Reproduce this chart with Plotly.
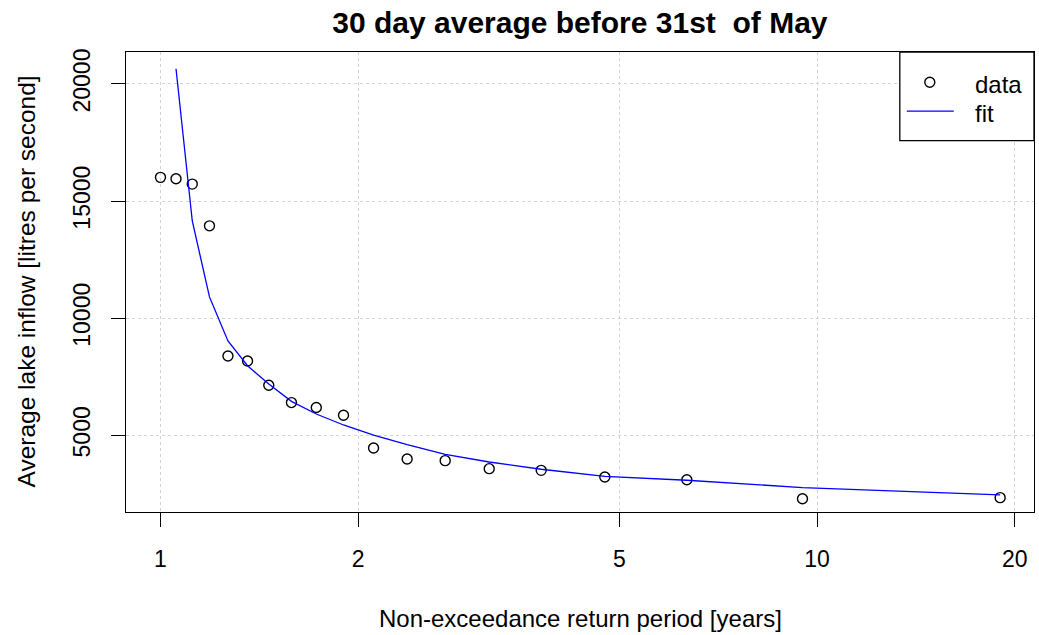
import plotly.graph_objects as go

# Return periods (years) of the observations
period_data = [1.0, 1.056, 1.118, 1.1875, 1.267, 1.357, 1.462, 1.583, 1.727, 1.9,
               2.111, 2.375, 2.714, 3.167, 3.8, 4.75, 6.333, 9.5, 19.0]
inflow_data = [16013, 15953, 15726, 13944, 8389, 8175, 7137, 6397, 6184, 5855,
               4459, 3988, 3918, 3575, 3504, 3219, 3105, 2293, 2338]

# Fitted curve
period_fit = [1.056, 1.118, 1.1875, 1.267, 1.357, 1.462, 1.583, 1.727, 1.9,
              2.111, 2.375, 2.714, 3.167, 3.8, 4.75, 6.333, 9.5, 19.0]
inflow_fit = [20650, 14150, 10910, 9030, 7970, 7190, 6450, 5910, 5440,
              5010, 4600, 4190, 3860, 3550, 3250, 3080, 2770, 2460]

x_ticks = [1, 2, 5, 10, 20]
y_ticks = [5000, 10000, 15000, 20000]
legend_labels = ["data", "fit"]

FONT = "Liberation Sans, Arial, sans-serif"
W, H = 1039, 635
L, R, T, B = 125.5, 1034.3, 52.3, 512.3
PW, PH = R - L, B - T


def px_x(p):
    return (p - L) / PW


def px_y(p):
    return (B - p) / PH


fig = go.Figure()
fig.add_trace(go.Scatter(
    x=period_data, y=inflow_data, mode="markers", name=legend_labels[0],
    marker=dict(symbol="circle-open", size=10, color="black", line=dict(width=1.4, color="black")),
))
fig.add_trace(go.Scatter(
    x=period_fit, y=inflow_fit, mode="lines", name=legend_labels[1],
    line=dict(color="#0000FF", width=1.3),
))

fig.update_layout(
    width=W, height=H,
    margin=dict(l=L, r=W - R, t=T, b=H - B, pad=0),
    paper_bgcolor="white", plot_bgcolor="white",
    font=dict(family=FONT, size=23, color="black"),
    showlegend=False,
    title=dict(text="<b>30 day average before 31st  of May</b>", x=(L + R) / 2 / W, xanchor="center",
               y=1 - 22 / H, yanchor="middle", yref="container",
               font=dict(size=30, family=FONT)),
)

fig.update_xaxes(
    type="log", range=[-0.0525, 1.3303],
    tickvals=x_ticks, ticktext=[str(v) for v in x_ticks],
    ticks="outside", ticklen=14, tickwidth=1, tickcolor="black",
    showline=True, linecolor="black", linewidth=1.3, mirror=True,
    showgrid=True, gridcolor="#d3d3d3", griddash="dot", gridwidth=1,
    zeroline=False, ticklabelstandoff=12,
    tickfont=dict(size=23),
)
fig.update_yaxes(
    range=[1725, 21366],
    tickvals=y_ticks, ticktext=[str(v) for v in y_ticks],
    ticks="outside", ticklen=14, tickwidth=1, tickcolor="black",
    showline=True, linecolor="black", linewidth=1.3, mirror=True,
    showgrid=True, gridcolor="#d3d3d3", griddash="dot", gridwidth=1,
    zeroline=False, tickangle=-90, ticklabelstandoff=12,
    tickfont=dict(size=23),
)

fig.add_annotation(text="Non-exceedance return period [years]", xref="paper", yref="paper",
                   x=0.5, y=0, yshift=-(619 - B), xanchor="center", yanchor="middle",
                   showarrow=False, font=dict(size=24))
fig.add_annotation(text="Average lake inflow [litres per second]", xref="paper", yref="paper",
                   x=0, y=0.5, xshift=-(L - 25), xanchor="center", yanchor="middle",
                   textangle=-90, showarrow=False, font=dict(size=24.5))

# Legend box (R style)
fig.add_shape(type="rect", xref="paper", yref="paper",
              x0=px_x(900), x1=1, y0=px_y(141), y1=1,
              line=dict(color="black", width=1.3), fillcolor="white", layer="above")
fig.add_shape(type="circle", xref="paper", yref="paper", xsizemode="pixel", ysizemode="pixel",
              xanchor=px_x(930), yanchor=px_y(82.5), x0=-5, x1=5, y0=-5, y1=5,
              line=dict(color="black", width=1.4), layer="above")
fig.add_shape(type="line", xref="paper", yref="paper",
              x0=px_x(907), x1=px_x(954), y0=px_y(111.5), y1=px_y(111.5),
              line=dict(color="#0000FF", width=1.3), layer="above")
for lab, cy in zip(legend_labels, [85, 114]):
    fig.add_annotation(text=lab, xref="paper", yref="paper", x=px_x(973), y=px_y(cy),
                       xanchor="left", yanchor="middle", showarrow=False,
                       font=dict(size=24))

fig.write_html("out.html")
